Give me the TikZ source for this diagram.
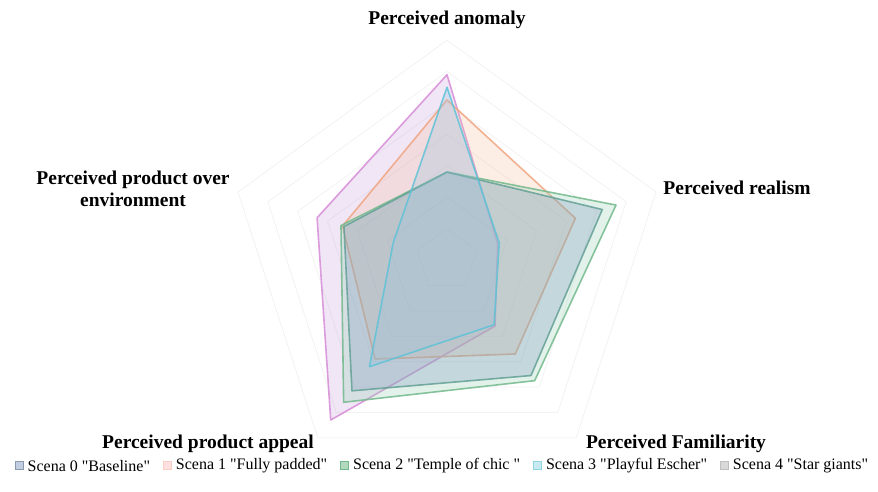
\documentclass[tikz,border=0pt]{standalone}
\usepackage{fontspec}
\setmainfont{Liberation Serif}
\newfontfamily\legfont{Liberation Serif}
\usetikzlibrary{positioning}

\definecolor{baseline}{RGB}{100,160,150}
\definecolor{baselinefill}{RGB}{120,145,185}
\definecolor{padded}{RGB}{240,165,130}
\definecolor{paddedfill}{RGB}{245,190,160}
\definecolor{temple}{RGB}{115,185,140}
\definecolor{templefill}{RGB}{150,210,180}
\definecolor{escher}{RGB}{95,195,215}
\definecolor{escherfill}{RGB}{150,195,225}
\definecolor{giants}{RGB}{215,140,215}
\definecolor{giantsfill}{RGB}{200,165,220}

\def\u{31.4}

\begin{document}
\begin{tikzpicture}[x=1pt, y=1pt,
  axislabel/.style={font=\bfseries\fontsize{19.5}{21.5}\selectfont, align=center},
  legtext/.style={font=\legfont\fontsize{16}{18}\selectfont, inner sep=0pt},
  legmark/.style n args={2}{draw=#1, fill=#2, minimum size=8pt, inner sep=0pt, line width=1pt},
  ring/.style={draw=black!5, line width=0.8pt},
  series/.style n args={2}{draw=#1, draw opacity=0.85, fill=#2, fill opacity=0.28, line width=1.6pt, line join=round}
]
\useasboundingbox (0,0) rectangle (878,492);

% grid rings
\begin{scope}[shift={(447,232)}]
\foreach \r in {1,...,7}
  \draw[ring] (90:{\r*\u}) -- (18:{\r*\u}) -- (-54:{\r*\u}) -- (-126:{\r*\u}) -- (162:{\r*\u}) -- cycle;

% series
\draw[series={giants}{giantsfill}] (90:{5.9*\u}) -- (18:{1.7*\u}) -- (-54:{2.6*\u}) -- (-126:{6.3*\u}) -- (162:{4.35*\u}) -- cycle;
\draw[series={padded}{paddedfill}] (90:{5.1*\u}) -- (18:{4.3*\u}) -- (-54:{3.7*\u}) -- (-126:{3.9*\u}) -- (162:{3.5*\u}) -- cycle;
\draw[series={temple}{templefill}] (90:{2.8*\u}) -- (18:{5.66*\u}) -- (-54:{4.75*\u}) -- (-126:{5.6*\u}) -- (162:{3.55*\u}) -- cycle;
\draw[series={baseline}{baselinefill}] (90:{2.8*\u}) -- (18:{5.2*\u}) -- (-54:{4.55*\u}) -- (-126:{5.15*\u}) -- (162:{3.45*\u}) -- cycle;
\draw[series={escher}{escherfill}] (90:{5.5*\u}) -- (18:{1.75*\u}) -- (-54:{2.55*\u}) -- (-126:{4.2*\u}) -- (162:{1.8*\u}) -- cycle;
\end{scope}

% axis labels
\node[axislabel] (anomaly) at (447,472) {Perceived anomaly};
\node[axislabel] (realism) at (737,304) {Perceived realism};
\node[axislabel] (familiar) at (676,48) {Perceived Familiarity};
\node[axislabel] (appeal) at (208,48) {Perceived product appeal};
\node[axislabel] (over) at (133,303) {Perceived product over\\environment};

% legend
\node[legmark={black!25!baselinefill!70}{baselinefill!45}] (m0) at (19,26) {};
\node[legtext, right=4pt of m0] (l0) {Scena 0 "Baseline"};
\node[legmark={paddedfill!70!red!40}{red!12}, right=12.5pt of l0] (m1) {};
\node[legtext, right=4pt of m1] (l1) {Scena 1 "Fully padded"};
\node[legmark={temple}{temple!55}, right=12.5pt of l1] (m2) {};
\node[legtext, right=4pt of m2] (l2) {Scena 2 "Temple of chic "};
\node[legmark={escher!70}{escher!35}, right=12.5pt of l2] (m3) {};
\node[legtext, right=4pt of m3] (l3) {Scena 3 "Playful Escher"};
\node[legmark={black!25}{black!15}, right=12.5pt of l3] (m4) {};
\node[legtext, right=4pt of m4] (l4) {Scena 4 "Star giants"};
\end{tikzpicture}
\end{document}
